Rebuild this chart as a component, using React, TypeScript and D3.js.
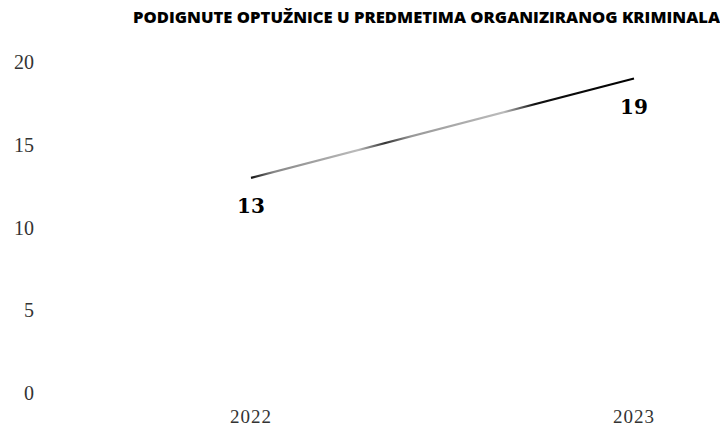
import React from 'react'
import * as d3 from 'd3'

// podaci
const years = ['2022', '2023']
const indictments = [13, 19]
const yTicks = [0, 5, 10, 15, 20]
const title = 'PODIGNUTE OPTUŽNICE U PREDMETIMA ORGANIZIRANOG KRIMINALA'

const W = 720
const H = 430

export default function App() {
	const x = d3.scalePoint<string>().domain(years).range([251, 634])
	const y = d3.scaleLinear().domain([0, 20]).range([393, 62])

	const line = d3
		.line<number>()
		.x((d, i) => x(years[i]) as number)
		.y(d => y(d))

	const x0 = x(years[0]) as number
	const x1 = x(years[years.length - 1]) as number

	return (
		<svg
			width={W}
			height={H}
			style={{ position: 'fixed', left: 0, top: 0, background: '#fff' }}
		>
			<defs>
				{/* izblijedjela sredina linije kao na skenu */}
				<linearGradient id="fade" gradientUnits="userSpaceOnUse" x1={x0} x2={x1} y1={0} y2={0}>
					<stop offset="0%" stopColor="#111" />
					<stop offset="6%" stopColor="#888" />
					<stop offset="28%" stopColor="#bbb" />
					<stop offset="35%" stopColor="#333" />
					<stop offset="42%" stopColor="#999" />
					<stop offset="66%" stopColor="#bbb" />
					<stop offset="74%" stopColor="#111" />
					<stop offset="100%" stopColor="#000" />
				</linearGradient>
			</defs>

			<text
				x={133}
				y={23}
				textLength={587}
				lengthAdjust="spacingAndGlyphs"
				fontFamily="Open Sans, Liberation Sans, sans-serif"
				fontWeight={800}
				fontSize={15}
				fill="#000"
			>
				{title}
			</text>

			{yTicks.map(t => (
				<text
					key={t}
					x={34}
					y={y(t)}
					dy="0.35em"
					textAnchor="end"
					fontFamily="Liberation Serif, serif"
					fontSize={20}
					fill="#333"
				>
					{t}
				</text>
			))}

			{years.map(yr => (
				<text
					key={yr}
					x={x(yr)}
					y={423}
					textAnchor="middle"
					fontFamily="Liberation Serif, serif"
					fontSize={19}
					letterSpacing={1}
					fill="#333"
				>
					{yr}
				</text>
			))}

			<path d={line(indictments) ?? ''} fill="none" stroke="url(#fade)" strokeWidth={2.2} />

			{indictments.map((v, i) => (
				<text
					key={i}
					x={x(years[i])}
					y={y(v) + 35}
					textAnchor="middle"
					fontFamily="DejaVu Serif, serif"
					fontWeight="bold"
					fontSize={20}
					fill="#000"
				>
					{v}
				</text>
			))}
		</svg>
	)
}
